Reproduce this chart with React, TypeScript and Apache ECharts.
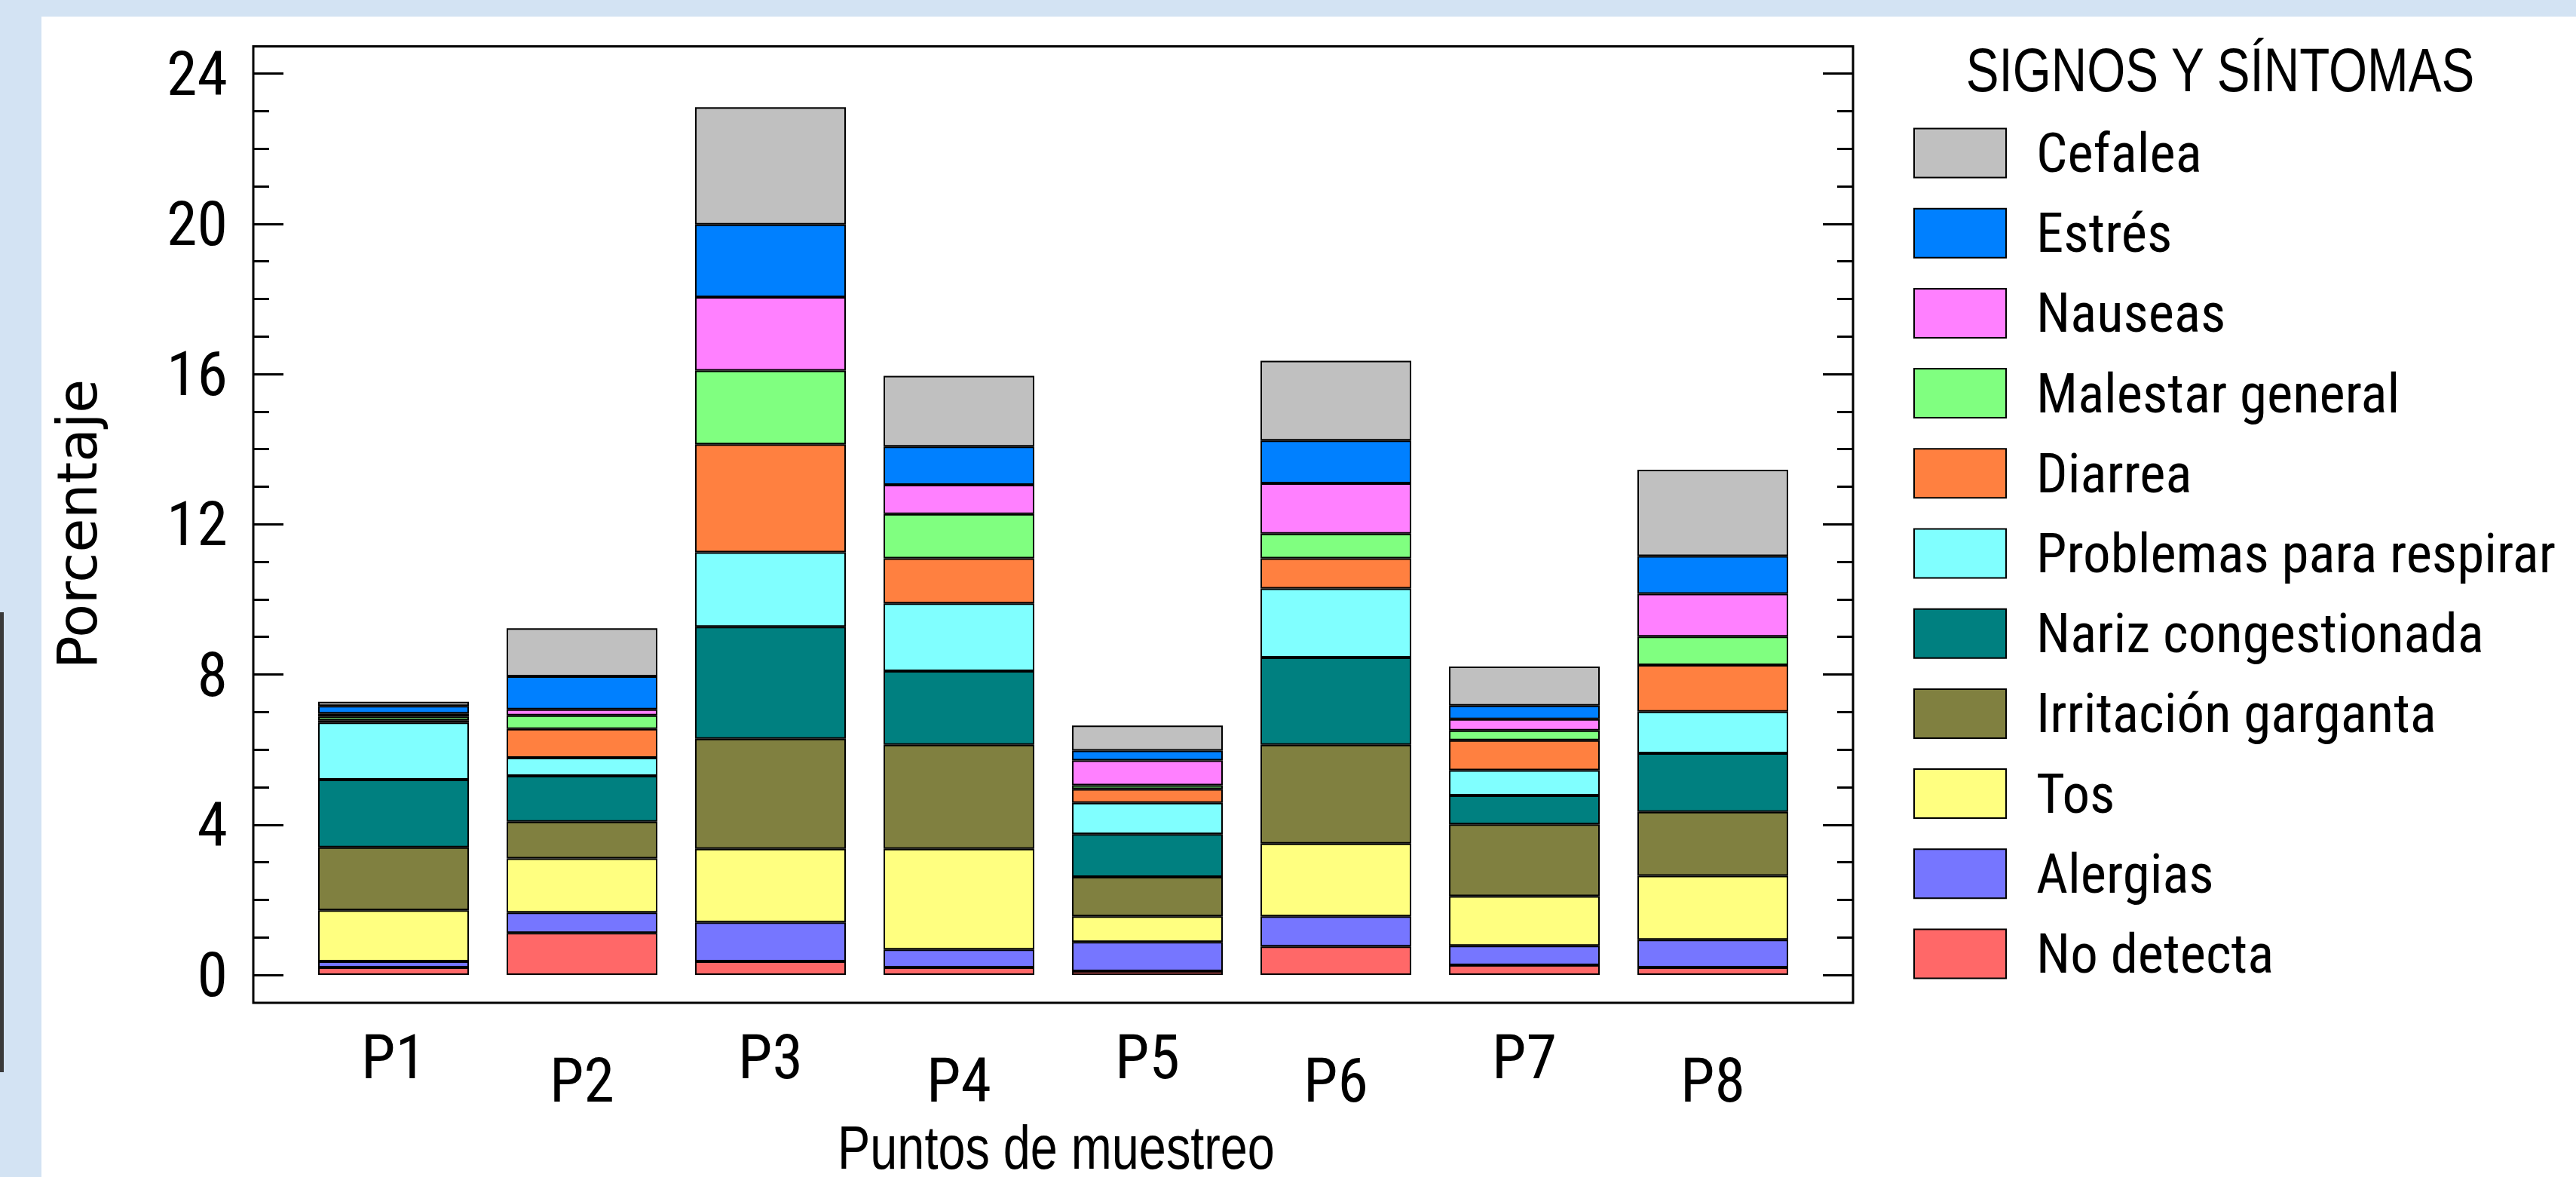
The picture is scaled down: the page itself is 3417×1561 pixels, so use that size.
import React, { useEffect, useRef } from "react";
import * as echarts from "echarts";

const categories = ["P1", "P2", "P3", "P4", "P5", "P6", "P7", "P8"];
const yTicks = [0, 4, 8, 12, 16, 20, 24];

// stacked from bottom to top
const noDetecta = [0.2, 1.12, 0.36, 0.2, 0.1, 0.76, 0.26, 0.2];
const alergias = [0.16, 0.54, 1.04, 0.48, 0.78, 0.8, 0.52, 0.74];
const tos = [1.36, 1.44, 1.96, 2.68, 0.68, 1.94, 1.32, 1.7];
const irritacion = [1.68, 0.98, 2.93, 2.77, 1.05, 2.63, 1.91, 1.7];
const nariz = [1.8, 1.22, 2.98, 1.96, 1.14, 2.32, 0.77, 1.56];
const problemas = [1.52, 0.48, 1.98, 1.8, 0.83, 1.84, 0.67, 1.11];
const diarrea = [0.06, 0.77, 2.88, 1.2, 0.37, 0.8, 0.8, 1.24];
const malestar = [0.1, 0.36, 1.96, 1.18, 0.1, 0.66, 0.26, 0.76];
const nauseas = [0.08, 0.16, 1.96, 0.78, 0.66, 1.34, 0.3, 1.14];
const estres = [0.2, 0.88, 1.93, 1.02, 0.26, 1.14, 0.36, 1.0];
const cefalea = [0.11, 1.28, 3.12, 1.88, 0.67, 2.12, 1.04, 2.3];

const seriesNames = [
  "No detecta",
  "Alergias",
  "Tos",
  "Irritación garganta",
  "Nariz congestionada",
  "Problemas para respirar",
  "Diarrea",
  "Malestar general",
  "Nauseas",
  "Estrés",
  "Cefalea",
];
const seriesData = [noDetecta, alergias, tos, irritacion, nariz, problemas, diarrea, malestar, nauseas, estres, cefalea];
const seriesColors = [
  "#ff6868",
  "#7676ff",
  "#ffff80",
  "#808040",
  "#008080",
  "#80ffff",
  "#ff8040",
  "#80ff80",
  "#ff80ff",
  "#0080ff",
  "#c0c0c0",
];

const NARROW = "'Roboto Condensed', 'Liberation Sans', Arial, sans-serif";
const SANS = "'Liberation Sans', Arial, sans-serif";

export default function App() {
  const ref = useRef<HTMLDivElement>(null);

  useEffect(() => {
    document.body.style.margin = "0";
    const chart = echarts.init(ref.current!, null, { renderer: "svg" });

    const axisTickStyle = { color: "#000", width: 3 };
    const yAxisBase = {
      type: "value" as const,
      min: yTicks[0],
      max: yTicks[yTicks.length - 1],
      interval: 4,
      offset: 61,
      splitLine: { show: false },
      axisLine: { show: false },
      axisTick: { show: true, inside: true, length: 40, lineStyle: axisTickStyle },
      minorTick: { show: true, splitNumber: 4, length: 21, lineStyle: axisTickStyle },
      minorSplitLine: { show: false },
    };

    const legendFont = 73;

    chart.setOption({
      animation: false,
      backgroundColor: "transparent",
      grid: { left: 397, top: 97.5, width: 2000, height: 1195.5, containLabel: false },
      xAxis: {
        type: "category",
        data: categories,
        axisLine: { show: false },
        axisTick: { show: false },
        splitLine: { show: false },
        axisLabel: {
          interval: 0,
          margin: 93,
          fontSize: 82,
          lineHeight: 31,
          color: "#000",
          fontFamily: NARROW,
          formatter: (v: string, i: number) => (i % 2 === 1 ? "\n" + v : v),
        },
      },
      yAxis: [
        {
          ...yAxisBase,
          position: "left",
          axisLabel: { show: true, margin: 34, fontSize: 82, color: "#000", fontFamily: NARROW },
        },
        {
          ...yAxisBase,
          position: "right",
          axisLabel: { show: false },
        },
      ],
      legend: {
        orient: "vertical",
        left: 2538,
        top: 170.5 - (legendFont - 65) / 2,
        padding: 0,
        itemWidth: 122,
        itemHeight: 65,
        itemGap: 106.2 - legendFont,
        icon: "rect",
        data: [...seriesNames].reverse(),
        selectedMode: false,
        itemStyle: { borderColor: "#000", borderWidth: 2 },
        textStyle: {
          fontSize: legendFont,
          color: "#000",
          fontFamily: NARROW,
          padding: [0, 0, 0, 35],
        },
      },
      graphic: [
        {
          type: "rect",
          z: -10,
          silent: true,
          shape: { x: 55, y: 22, width: 3362, height: 1539 },
          style: { fill: "#ffffff" },
        },
        {
          type: "rect",
          z: -10,
          silent: true,
          shape: { x: 0, y: 812, width: 5, height: 610 },
          style: { fill: "#3a3a3a" },
        },
        {
          type: "rect",
          z: 10,
          silent: true,
          shape: { x: 336, y: 61.5, width: 2122, height: 1268.5 },
          style: { fill: "none", stroke: "#000", lineWidth: 3 },
        },
        {
          type: "text",
          silent: true,
          x: 2945,
          y: 93,
          scaleX: 0.8,
          style: {
            text: "SIGNOS Y SÍNTOMAS",
            fontSize: 82,
            fontFamily: SANS,
            fill: "#000",
            align: "center",
            verticalAlign: "middle",
          },
        },
        {
          type: "text",
          silent: true,
          x: 1401,
          y: 1522,
          scaleX: 0.8,
          style: {
            text: "Puntos de muestreo",
            fontSize: 81,
            lineHeight: 62,
            fontFamily: SANS,
            fill: "#000",
            align: "center",
            verticalAlign: "middle",
          },
        },
        {
          type: "text",
          silent: true,
          x: 102,
          y: 695,
          rotation: Math.PI / 2,
          style: {
            text: "Porcentaje",
            fontSize: 73,
            fontFamily: "'DejaVu Sans', sans-serif",
            fill: "#000",
            align: "center",
            verticalAlign: "middle",
          },
        },
      ],
      series: seriesNames.map((name, i) => ({
        name,
        type: "bar",
        stack: "total",
        barWidth: 200,
        yAxisIndex: 0,
        data: seriesData[i],
        itemStyle: { color: seriesColors[i], borderColor: "#000", borderWidth: 2 },
        emphasis: { disabled: true },
      })),
    });

    return () => chart.dispose();
  }, []);

  return (
    <div
      style={{
        position: "fixed",
        left: 0,
        top: 0,
        width: 3417,
        height: 1561,
        background: "#d3e3f3",
      }}
    >
      <div ref={ref} style={{ width: 3417, height: 1561 }} />
    </div>
  );
}
